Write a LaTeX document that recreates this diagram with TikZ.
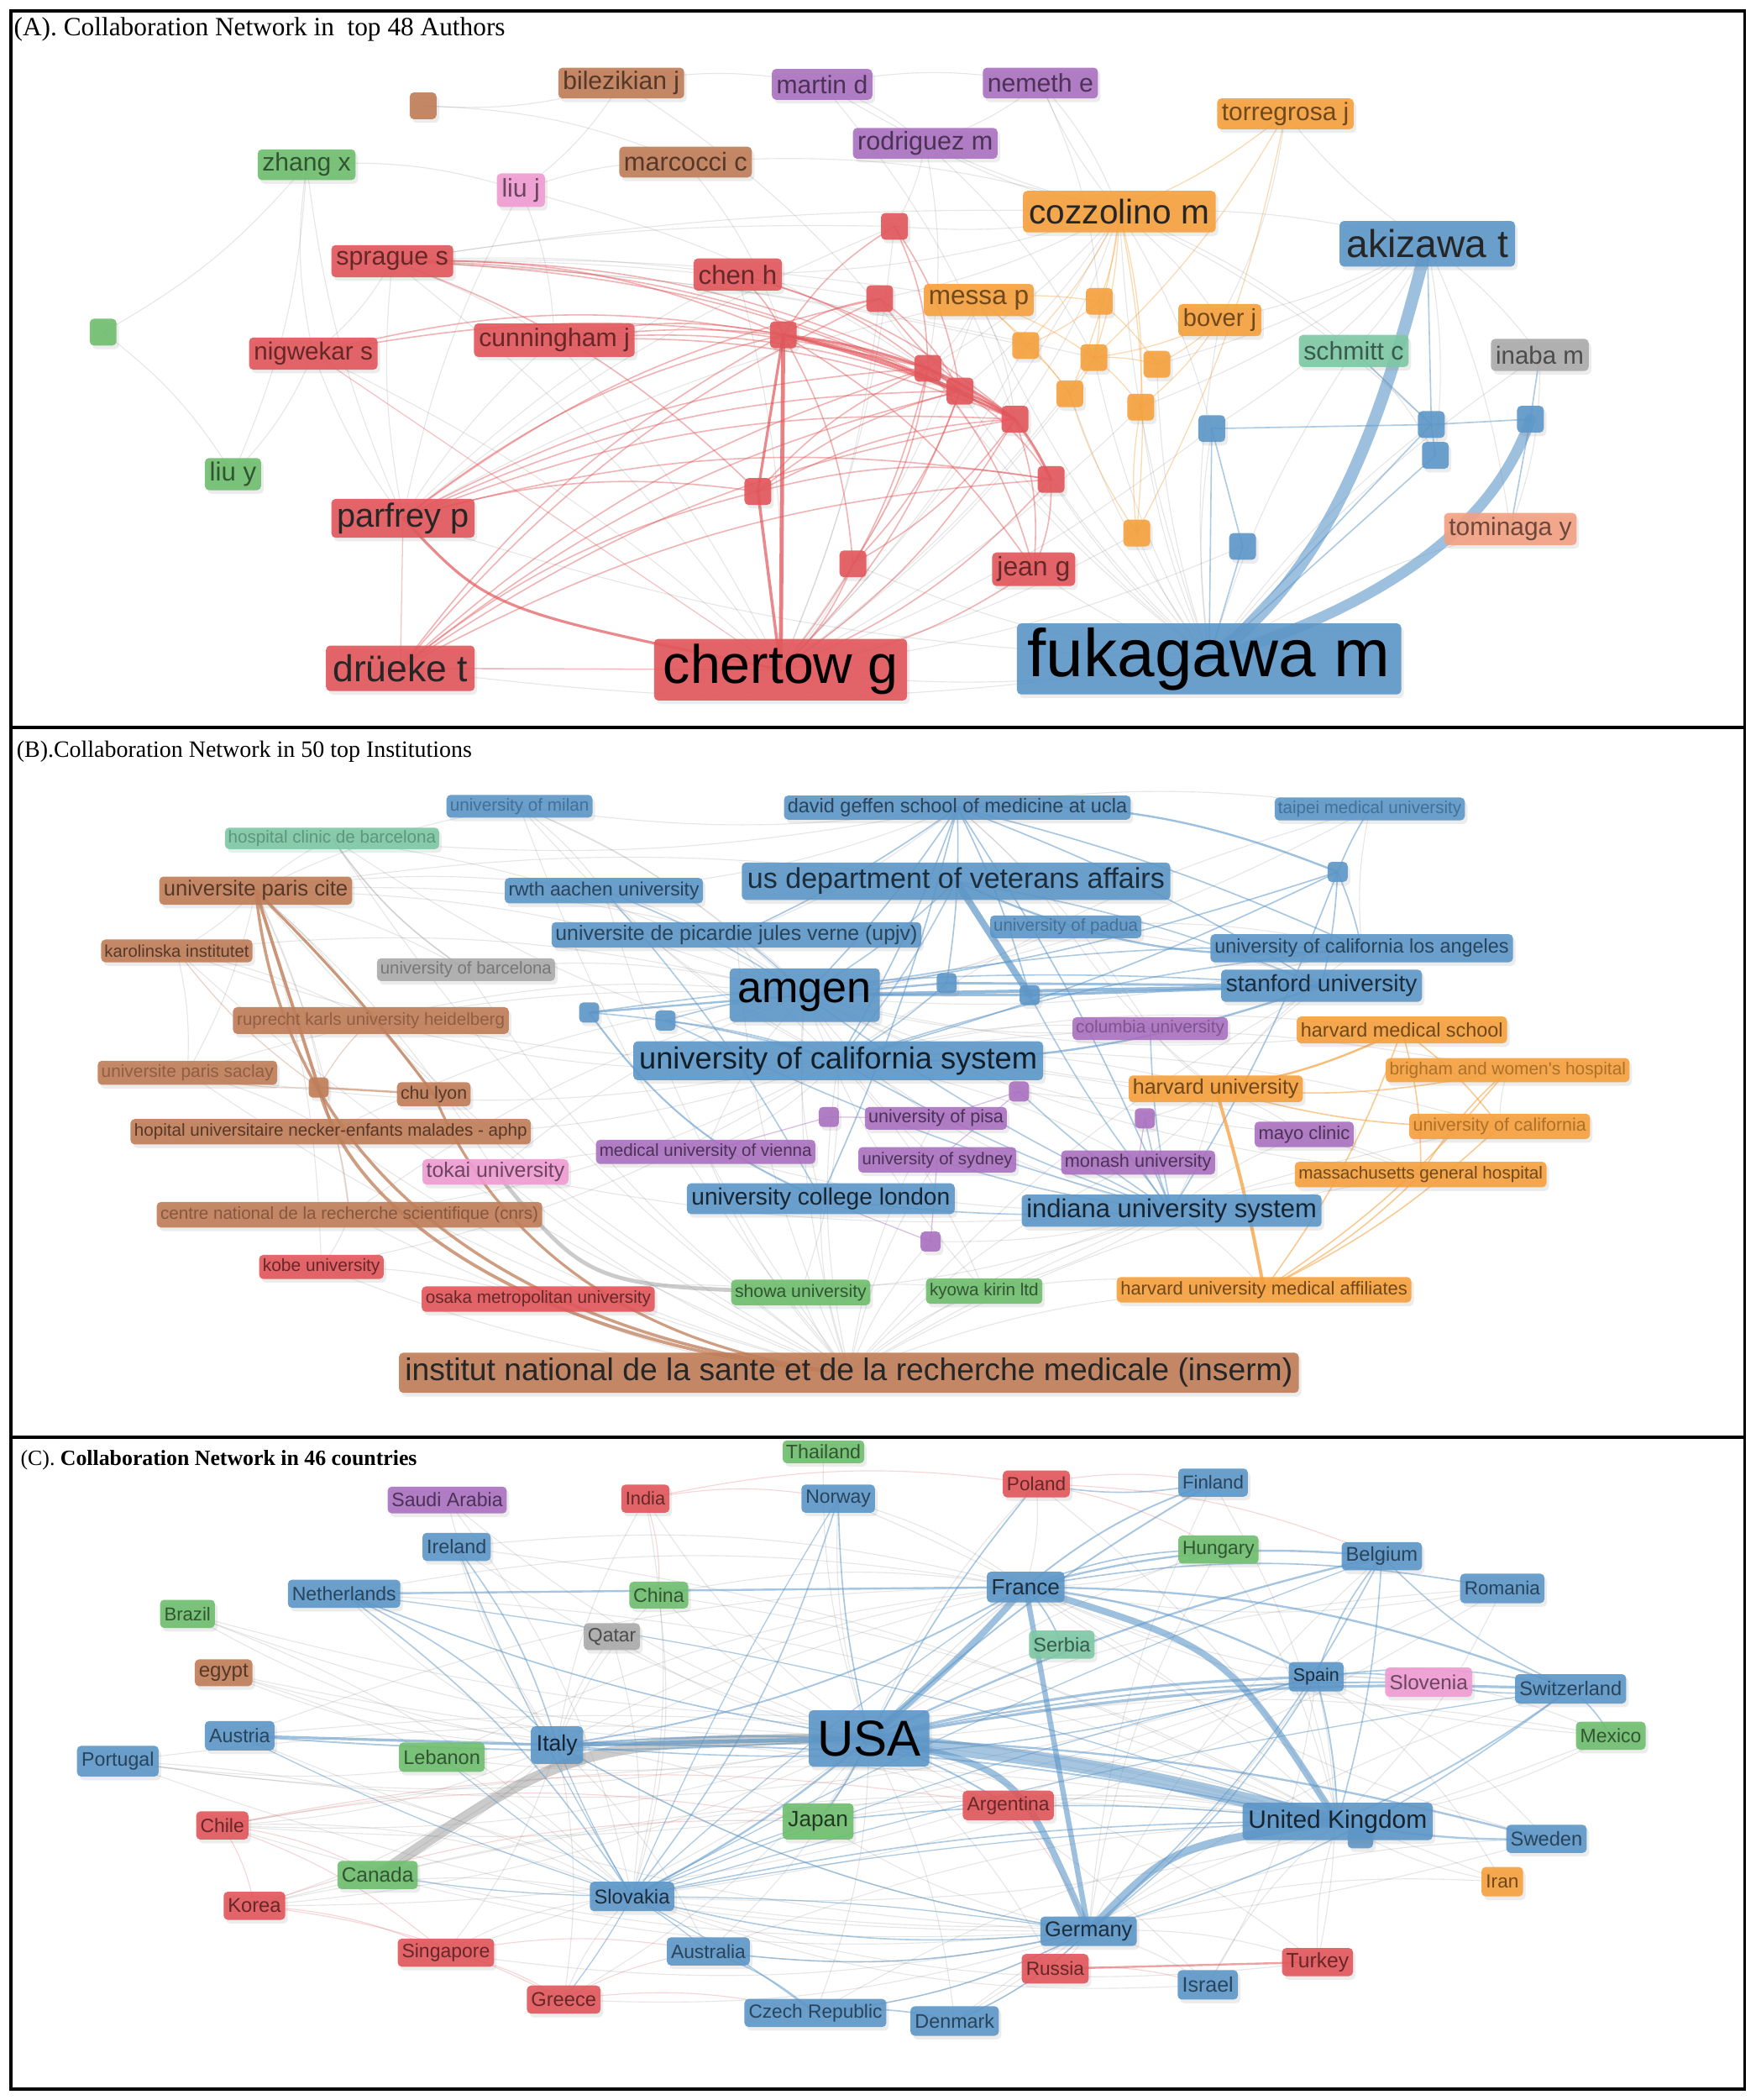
\documentclass[tikz,border=0pt]{standalone}
\usepackage{fontspec}
\setmainfont{Liberation Serif}
\newfontfamily\lab{Liberation Sans}
\usepackage{graphicx}
\usetikzlibrary{shadows}
\pgfdeclarelayer{bgw}
\pgfdeclarelayer{edges}
\pgfsetlayers{bgw,edges,main}
\definecolor{cRed}{RGB}{226,86,90}
\definecolor{cBlue}{RGB}{92,150,200}
\definecolor{cGreen}{RGB}{110,190,110}
\definecolor{cBrown}{RGB}{192,125,88}
\definecolor{cPurple}{RGB}{170,112,192}
\definecolor{cOrange}{RGB}{246,160,60}
\definecolor{cPink}{RGB}{240,155,210}
\definecolor{cMint}{RGB}{125,200,165}
\definecolor{cGray}{RGB}{170,170,170}
\definecolor{cSalmon}{RGB}{243,160,130}
\def\U{0.478pt}
\def\sqw{20}\def\sqh{20}
\tikzset{
  box/.style={rounded corners=1.5pt, inner sep=0pt, font=\lab, fill opacity=0.9, text opacity=1,
    drop shadow={opacity=0.15, shadow xshift=0.9pt, shadow yshift=-1.3pt}},
  fa/.style={draw=black!60, opacity=0.16, line width={0.7*\U}},
  ln/.style n args={3}{draw=#1, opacity=#2, line width={#3*\U}, line cap=round},
}
\newcommand\nd[8][]{%
  \pgfmathsetlengthmacro\tw{(#5-0.3*#6)*\U}%
  \node[box, fill=#7, text=#7!45!black, minimum width={#5*\U}, minimum height={#6*\U}, #1] (#2) at (#3,#4) {\resizebox{\tw}{!}{#8}};%
}
\newcommand\sq[5][]{%
  \node[box, fill=#5, minimum width={\sqw*\U}, minimum height={\sqh*\U}, #1] (#2) at (#3,#4) {};%
}
\begin{document}
\begin{tikzpicture}[x=\U, y=-\U]
\begin{pgfonlayer}{bgw}
\fill[white] (0,0) rectangle (1311,1568);
\end{pgfonlayer}
\useasboundingbox (0,0) rectangle (1311,1568);

% ---------------- Panel A ----------------
\node[anchor=west, inner sep=0pt] (tA) at (10,22) {\resizebox{175.4pt}{!}{(A). Collaboration Network in\ \ top 48 Authors}};
\nd{Abil}{464}{62}{94}{23}{cBrown}{bilezikian j}
\sq{Asqb}{316}{79}{cBrown}
\nd{Amar}{614}{63}{75}{23}{cPurple}{martin d}
\nd{Anem}{777}{62}{86}{23}{cPurple}{nemeth e}
\nd{Ator}{960}{85}{102}{23}{cOrange}{torregrosa j}
\nd{Arod}{691}{107}{108}{23}{cPurple}{rodriguez m}
\nd{Azha}{229}{123}{73}{23}{cGreen}{zhang x}
\nd{Amrc}{512}{121}{99}{23}{cBrown}{marcocci c}
\nd{Aliuj}{389}{142}{36}{25}{cPink}{liu j}
\nd[text=black!85]{Acoz}{836}{158}{144}{31}{cOrange}{cozzolino m}
\nd[text=black!85]{Aaki}{1066}{182}{131}{34}{cBlue}{akizawa t}
\sq{Ar1}{668}{169}{cRed}
\nd{Aspr}{293}{195}{91}{24}{cRed}{sprague s}
\nd{Ache}{551}{205}{66}{24}{cRed}{chen h}
\sq{Ar2}{657}{223}{cRed}
\nd{Ames}{731}{224}{82}{24}{cOrange}{messa p}
\sq{Ao1}{821}{225}{cOrange}
\nd{Abov}{911}{239}{62}{24}{cOrange}{bover j}
\sq{Ag1}{77}{248}{cGreen}
\sq{Ar3}{585}{250}{cRed}
\nd{Acun}{414}{254}{120}{25}{cRed}{cunningham j}
\nd{Anig}{234}{264}{96}{24}{cRed}{nigwekar s}
\sq{Ao2}{766}{258}{cOrange}
\nd{Asch}{1011}{262}{82}{24}{cMint}{schmitt c}
\nd{Aina}{1150}{265}{73}{24}{cGray}{inaba m}
\sq{Ao3}{817}{267}{cOrange}
\sq{Ar4}{693}{275}{cRed}
\sq{Ao4}{864}{272}{cOrange}
\sq{Ar5}{717}{292}{cRed}
\sq{Ao5}{799}{294}{cOrange}
\sq{Ao6}{852}{304}{cOrange}
\sq{Ar6}{758}{313}{cRed}
\sq{Ab1}{905}{320}{cBlue}
\sq{Ab2}{1069}{317}{cBlue}
\sq{Ab3}{1143}{313}{cBlue}
\sq{Ab4}{1072}{340}{cBlue}
\nd{Aliuy}{174}{354}{42}{24}{cGreen}{liu y}
\sq{Ar7}{785}{358}{cRed}
\sq{Ar8}{566}{367}{cRed}
\nd[text=black!85]{Apar}{301}{387}{107}{29}{cRed}{parfrey p}
\sq{Ao7}{849}{398}{cOrange}
\nd{Atom}{1128}{395}{99}{24}{cSalmon}{tominaga y}
\sq{Ab5}{928}{408}{cBlue}
\sq{Ar9}{637}{421}{cRed}
\nd{Ajea}{772}{425}{62}{25}{cRed}{jean g}
\nd[text=black!85]{Adru}{299}{499}{111}{34}{cRed}{drüeke t}
\nd[text=black]{Acht}{583}{500}{189}{46}{cRed}{chertow g}
\nd[text=black]{Afuk}{903}{492}{287}{53}{cBlue}{fukagawa m}

\begin{pgfonlayer}{edges}
\foreach \b in {Acht,Ajea,Ar9,Ao7,Ab1,Ao6,Ao4,Ar7,Ar6,Asch,Atom,Aina,Acoz,Ames,Apar,Ar5,Ab2,Adru,Ao5,Ao3,Abov,Ar4}
  \draw[fa] (Afuk.center) to[bend left=8] (\b.center);
\foreach \b in {Aspr,Acun,Ache,Ar1,Ar2,Anig,Ao7,Ao5,Ao6,Ab1,Acoz,Ames,Ar9,Ab5,Ao2,Ao3}
  \draw[fa] (Acht.center) to[bend right=8] (\b.center);
\foreach \b in {Arod,Amar,Anem,Ar1,Ar2,Ar4,Aaki,Abov,Ab1,Ab2,Asch,Ache,Ar5,Ar6}
  \draw[fa] (Acoz.center) to[bend left=8] (\b.center);
\foreach \b in {Ache,Ar1,Ar2,Ames,Acoz,Acun,Ao2,Ao3}
  \draw[fa] (Aspr.center) to[bend left=5] (\b.center);
\foreach \b in {Aspr,Acun,Anig,Ache,Ar1,Azha,Aliuj,Ames}
  \draw[fa] (Apar.center) to[bend left=8] (\b.center);
\foreach \b in {Asch,Aina,Ab1,Abov,Atom,Ab4,Ao4,Ator,Ao6}
  \draw[fa] (Aaki.center) to[bend left=8] (\b.center);
\foreach \a/\b in {Azha/Aliuy,Azha/Ag1,Ag1/Aliuy,Azha/Aliuj,Aliuj/Amrc,Abil/Asqb,Asqb/Amrc,Abil/Amar,Amar/Anem,Amar/Arod,Anem/Arod,Arod/Ar1,Anem/Acoz,Abil/Aliuj,Anig/Aliuy,Aliuj/Acun,Amrc/Acoz,Ator/Abov,Amrc/Ar3,Abil/Ar4,Anig/Azha,Aspr/Anig,Aliuj/Ar5,Arod/Ar4,Amar/Ar6,Aina/Atom,Asch/Ab4,Arod/Ao3,Anem/Ao1,Ames/Ar4,Ames/Ar6}
  \draw[fa] (\a.center) to[bend left=10] (\b.center);
\foreach \a/\b in {Adru/Ar3,Adru/Ar4,Adru/Ar5,Adru/Ar6,Adru/Ar8,Adru/Ar7,Adru/Ar2,Apar/Ar3,Apar/Ar4,Apar/Ar5,Apar/Ar6,Apar/Ar8,Apar/Ar7,Apar/Ar2,Acun/Ar3,Acun/Ar4,Acun/Ar5,Acun/Ar6,Aspr/Ar3,Aspr/Ar4,Aspr/Ar5,Aspr/Ar6,Aspr/Ar8,Ar3/Ar1,Ar3/Ar2,Ar3/Ar9,Ar3/Ajea,Ar6/Ajea,Ar6/Ar9,Ar6/Ar2,Ar4/Ar9,Ar4/Ajea,Ar5/Ar9,Ar5/Ar7,Ache/Ar3,Ache/Ar4,Ache/Ar6,Anig/Ar3,Anig/Ar4,Ar1/Ar4,Ar1/Ar5,Ar2/Ar5,Ar9/Acht,Ajea/Acht,Ar7/Acht,Ar6/Acht,Ar5/Acht,Ar4/Acht,Ar7/Ajea,Ar8/Ar5,Ar8/Ar4,Ar8/Ar6,Ar8/Ar7}
  \draw[ln={cRed}{0.45}{1}] (\a.center) to[bend left=12] (\b.center);
\draw[ln={cRed}{0.4}{1}] (Adru.center) -- (Acht.center);
\draw[ln={cRed}{0.35}{0.8}] (Apar.center) -- (Adru.center);
\draw[ln={cRed}{0.35}{0.8}] (Anig.center) -- (Acht.center);
\draw[ln={cRed}{0.75}{3}] (Ar3.center) -- (Acht.center);
\draw[ln={cRed}{0.7}{2.2}] (Ar8.center) -- (Acht.center);
\draw[ln={cRed}{0.7}{2}] (Ar3.center) -- (Ar8.center);
\draw[ln={cRed}{0.7}{2}] (Apar.center) .. controls (365,455) .. (Acht.center);
\foreach \a/\b in {Ar3/Ar4,Ar3/Ar5,Ar4/Ar5,Ar4/Ar6,Ar5/Ar6,Ar6/Ar7,Ar3/Ar6}
  \draw[ln={cRed}{0.7}{1.8}] (\a.center) to[bend left=6] (\b.center);
\foreach \a/\b in {Acoz/Ao1,Acoz/Ao2,Acoz/Ao3,Acoz/Ao5,Acoz/Ao7,Acoz/Ao6,Ames/Ao1,Ames/Ao2,Ames/Ao5,Ames/Ao3,Ao1/Ao3,Ao1/Ao2,Ao1/Ao4,Ao3/Ao4,Ao3/Ao5,Ao3/Ao6,Abov/Ao4,Abov/Ao3,Abov/Ao6,Ator/Ao3,Ator/Ao7,Ator/Acoz,Ao7/Ao5,Ao7/Ao6,Ao2/Ao5}
  \draw[ln={cOrange}{0.4}{0.8}] (\a.center) to[bend left=8] (\b.center);
\foreach \a/\b in {Aaki/Ab2,Ab2/Ab3,Ab2/Ab4,Ab4/Afuk,Ab5/Afuk,Ab1/Afuk,Ab1/Ab2,Asch/Ab2,Aina/Ab3,Atom/Ab3,Ab5/Ab1,Ab2/Afuk}
  \draw[ln={cBlue}{0.5}{1}] (\a.center) -- (\b.center);
\draw[ln={cBlue}{0.6}{9}] (Aaki.center) .. controls (1040,280) and (1005,420) .. (Afuk.center);
\draw[ln={cBlue}{0.6}{8}] (Ab3.center) .. controls (1125,365) and (1075,440) .. (Afuk.center);
\end{pgfonlayer}

% ---------------- Panel B ----------------
\def\sqw{15}\def\sqh{15}
\node[anchor=west, inner sep=0pt] (tB) at (12,561) {\resizebox{162.5pt}{!}{(B).Collaboration Network in 50 top Institutions}};
\nd[text=cBlue!75!black]{Bmilan}{388}{602}{109}{17}{cBlue}{university of milan}
\nd{Bgeffen}{715}{603}{259}{18}{cBlue}{david geffen school of medicine at ucla}
\nd[text=cBlue!75!black]{Btaipei}{1023}{604}{142}{17}{cBlue}{taipei medical university}
\nd[text=cMint!75!black]{Bhclinic}{248}{626}{160}{16}{cMint}{hospital clinic de barcelona}
\nd[text=cBlue!30!black]{Busva}{714}{658}{320}{28}{cBlue}{us department of veterans affairs}
\nd{Bpcite}{191}{665}{144}{21}{cBrown}{universite paris cite}
\nd{Brwth}{451}{665}{148}{19}{cBlue}{rwth aachen university}
\sq{Bbsq1}{999}{651}{cBlue}
\nd{Bupjv}{550}{698}{276}{19}{cBlue}{universite de picardie jules verne (upjv)}
\nd[text=cBlue!75!black]{Bpadua}{796}{692}{113}{17}{cBlue}{university of padua}
\nd{Bkarol}{132}{710}{113}{17}{cBrown}{karolinska institutet}
\nd[text=cGray!70!black]{Bubarc}{348}{724}{133}{17}{cGray}{university of barcelona}
\nd{Bucla}{1017}{708}{226}{21}{cBlue}{university of california los angeles}
\nd[text=black]{Bamgen}{601}{743}{112}{40}{cBlue}{amgen}
\sq{Bbsq2}{707}{734}{cBlue}
\nd[text=cBlue!30!black]{Bstanf}{987}{736}{150}{24}{cBlue}{stanford university}
\sq{Bbsq3}{769}{743}{cBlue}
\sq{Bbsq4}{440}{756}{cBlue}
\sq{Bbsq5}{497}{762}{cBlue}
\nd[text=cBrown!75!black]{Bheid}{277}{762}{206}{20}{cBrown}{ruprecht karls university heidelberg}
\nd[text=cPurple!75!black]{Bcolum}{859}{768}{116}{17}{cPurple}{columbia university}
\nd{Bhms}{1047}{769}{157}{20}{cOrange}{harvard medical school}
\nd[text=cBlue!20!black]{Bucsys}{626}{792}{306}{29}{cBlue}{university of california system}
\nd[text=cBrown!75!black]{Bsaclay}{140}{801}{134}{18}{cBrown}{universite paris saclay}
\nd[text=cOrange!70!black]{Bbrigham}{1126}{799}{182}{18}{cOrange}{brigham and women's hospital}
\sq{Bbrsq}{238}{812}{cBrown}
\nd{Blyon}{324}{817}{55}{18}{cBrown}{chu lyon}
\nd{Bharv}{908}{813}{130}{20}{cOrange}{harvard university}
\sq{Bpsq1}{761}{815}{cPurple}
\nd{Bpisa}{699}{835}{106}{17}{cPurple}{university of pisa}
\sq{Bpsq2}{619}{834}{cPurple}
\sq{Bpsq3}{855}{835}{cPurple}
\nd{Bnecker}{247}{845}{299}{19}{cBrown}{hopital universitaire necker-enfants malades - aphp}
\nd[text=cOrange!70!black]{Bucal}{1120}{841}{135}{19}{cOrange}{university of california}
\nd{Bmayo}{974}{847}{74}{19}{cPurple}{mayo clinic}
\nd{Bvienna}{527}{860}{164}{18}{cPurple}{medical university of vienna}
\nd{Bsydney}{700}{866}{118}{19}{cPurple}{university of sydney}
\nd{Bmonash}{850}{868}{115}{18}{cPurple}{monash university}
\nd{Bmgh}{1061}{877}{188}{19}{cOrange}{massachusetts general hospital}
\nd{Btokai}{370}{875}{109}{19}{cPink}{tokai university}
\nd[text=cBlue!25!black]{Bucl}{613}{895}{200}{23}{cBlue}{university college london}
\nd[text=cBlue!25!black]{Bindiana}{875}{904}{224}{24}{cBlue}{indiana university system}
\nd[text=cBrown!70!black]{Bcnrs}{261}{907}{288}{19}{cBrown}{centre national de la recherche scientifique (cnrs)}
\sq{Bpsq4}{695}{927}{cPurple}
\nd{Bkobe}{240}{946}{93}{18}{cRed}{kobe university}
\nd{Bshowa}{598}{965}{104}{19}{cGreen}{showa university}
\nd{Bkyowa}{735}{964}{87}{19}{cGreen}{kyowa kirin ltd}
\nd{Bhmaff}{944}{963}{220}{19}{cOrange}{harvard university medical affiliates}
\nd{Bosaka}{402}{970}{174}{19}{cRed}{osaka metropolitan university}
\nd[text=black!85]{Binserm}{634}{1025}{672}{30}{cBrown}{institut national de la sante et de la recherche medicale (inserm)}

\begin{pgfonlayer}{edges}
\foreach \b in {Bpcite,Bkarol,Bheid,Bsaclay,Bnecker,Bcnrs,Btokai,Bkobe,Bosaka,Bshowa,Bkyowa,Bhmaff,Bindiana,Bucl,Bvienna,Bsydney,Bamgen,Bucsys,Bmonash,Bpsq4,Bmilan,Bhclinic,Bubarc,Bmgh,Bucal,Bstanf,Bpisa,Bupjv,Brwth}
  \draw[fa] (Binserm.center) to[bend left=10] (\b.center);
\foreach \b in {Bmilan,Brwth,Bupjv,Bubarc,Bheid,Bpadua,Bcolum,Bucla,Bhms,Bharv,Bvienna,Bpisa,Bsydney,Bucl,Btokai,Bkyowa,Bmayo,Bkarol,Bsaclay,Bpcite,Btaipei,Bnecker,Bmgh,Bcnrs,Bhclinic}
  \draw[fa] (Bamgen.center) to[bend right=10] (\b.center);
\foreach \b in {Brwth,Bupjv,Bheid,Bmilan,Bhclinic,Bcolum,Bharv,Bmonash,Bpisa,Bvienna,Bshowa,Bkyowa,Bnecker,Bhms,Bbrigham,Bmgh,Bcnrs,Bkobe,Bucal,Btaipei,Bsaclay,Bkarol}
  \draw[fa] (Bucsys.center) to[bend left=10] (\b.center);
\foreach \b in {Bkarol,Bsaclay,Bheid,Bnecker,Bcnrs,Brwth,Bmilan,Bhclinic,Bubarc,Bkobe,Busva,Bupjv,Btokai}
  \draw[fa] (Bpcite.center) to[bend left=8] (\b.center);
\foreach \b in {Bcolum,Bstanf,Bmonash,Bindiana,Bmayo,Bucla,Bpsq3,Bpsq1,Bpadua}
  \draw[fa] (Bharv.center) to[bend left=8] (\b.center);
\foreach \b in {Bpisa,Bvienna,Bshowa,Bkyowa,Bmayo,Bmgh,Bpsq4,Bhmaff,Btokai}
  \draw[fa] (Bindiana.center) to[bend left=8] (\b.center);
\foreach \b in {Bmilan,Brwth,Bpadua,Bhclinic,Btaipei,Bupjv,Bcolum}
  \draw[fa] (Bgeffen.center) to[bend left=8] (\b.center);
\foreach \a/\b in {Bkarol/Bsaclay,Bkarol/Bheid,Bsaclay/Bnecker,Bcnrs/Bkobe,Bkobe/Bosaka,Bosaka/Bshowa,Bshowa/Bkyowa,Bkyowa/Bhmaff,Btokai/Bvienna,Bmilan/Brwth,Bucla/Btaipei,Bmayo/Bmgh,Bucal/Bbrigham,Bmilan/Bupjv,Bpadua/Bstanf,Bpadua/Bucla}
  \draw[fa] (\a.center) to[bend left=8] (\b.center);
\draw[ln={cBrown}{0.8}{2.4}] (Bpcite.center) -- (Bbrsq.center);
\draw[ln={cBrown}{0.8}{2}] (Bpcite.center) to[bend left=4] (Blyon.center);
\draw[ln={cBrown}{0.75}{2.2}] (Bpcite.center) .. controls (215,900) and (420,1005) .. (Binserm.center);
\draw[ln={cBrown}{0.75}{2.4}] (Bbrsq.center) .. controls (265,920) and (430,1010) .. (Binserm.center);
\draw[ln={cBrown}{0.75}{2}] (Blyon.center) .. controls (360,905) and (450,1005) .. (Binserm.center);
\draw[ln={cBrown}{0.6}{1.5}] (Bbrsq.center) -- (Blyon.center);
\foreach \b in {Bnecker,Bcnrs,Bheid,Bsaclay,Bkarol}
  \draw[ln={cBrown}{0.35}{0.8}] (Bbrsq.center) to[bend left=8] (\b.center);
\draw[ln={black!40}{0.5}{3}] (Btokai.center) .. controls (440,960) .. (Bshowa.center);
\draw[ln={black!40}{0.45}{1}] (Bhclinic.center) to[bend right=10] (Bubarc.center);
\draw[ln={cBlue}{0.7}{5}] (Busva.center) -- (Bbsq3.center);
\draw[ln={cBlue}{0.65}{2.5}] (Bamgen.center) -- (Bstanf.center);
\draw[ln={cBlue}{0.65}{2}] (Bbsq3.center) -- (Bstanf.center);
\draw[ln={cBlue}{0.6}{1.8}] (Bbsq2.center) -- (Bstanf.center);
\draw[ln={cBlue}{0.6}{2}] (Bamgen.center) -- (Bbsq3.center);
\draw[ln={cBlue}{0.6}{1.5}] (Bamgen.center) -- (Bbsq2.center);
\draw[ln={cBlue}{0.6}{1.5}] (Bgeffen.center) to[bend left=12] (Bbsq1.center);
\draw[ln={cBlue}{0.6}{1.5}] (Busva.center) to[bend right=15] (Bucla.center);
\draw[ln={cBlue}{0.6}{1.5}] (Bucsys.center) to[bend right=10] (Bstanf.center);
\draw[ln={cBlue}{0.6}{1.5}] (Bbsq4.center) -- (Bamgen.center);
\draw[ln={cBlue}{0.6}{1.3}] (Bbsq4.center) to[bend right=15] (Bucl.center);
\foreach \b in {Bamgen,Bucsys,Bstanf,Bbsq3,Bindiana,Bupjv,Bbsq2,Bucl,Bucla}
  \draw[ln={cBlue}{0.55}{1}] (Bgeffen.center) to[bend left=5] (\b.center);
\foreach \b in {Bucla,Bstanf,Bucsys,Bindiana,Btaipei,Bamgen}
  \draw[ln={cBlue}{0.55}{1}] (Bbsq1.center) to[bend left=5] (\b.center);
\foreach \b in {Bucl,Bsydney,Bmonash,Bcolum,Bpsq3,Bpsq1,Bamgen,Bucsys,Bbsq3,Bbsq5}
  \draw[ln={cBlue}{0.5}{1}] (Bindiana.center) to[bend left=5] (\b.center);
\foreach \a/\b in {Busva/Bstanf,Busva/Bucsys,Busva/Bamgen,Brwth/Bamgen,Bupjv/Bamgen,Bbsq5/Bamgen,Bbsq5/Bucsys,Bbsq4/Bucsys,Bbsq4/Bstanf,Bucsys/Bucla,Bamgen/Bucla,Bbsq2/Bucsys,Brwth/Bucl}
  \draw[ln={cBlue}{0.5}{1}] (\a.center) to[bend left=6] (\b.center);
\draw[ln={cOrange}{0.75}{2.5}] (Bharv.center) to[bend left=3] (Bhmaff.center);
\draw[ln={cOrange}{0.7}{1.5}] (Bhms.center) to[bend left=8] (Bharv.center);
\foreach \a/\b in {Bhms/Bhmaff,Bmgh/Bhmaff,Bbrigham/Bhmaff,Bucal/Bhmaff,Bmgh/Bbrigham,Bucal/Bharv,Bhms/Bmgh,Bbrigham/Bharv,Bhms/Bucal}
  \draw[ln={cOrange}{0.55}{1}] (\a.center) to[bend left=8] (\b.center);
\foreach \a/\b in {Bpsq1/Bpisa,Bpsq1/Bsydney,Bpsq2/Bpisa,Bpsq2/Bvienna,Bpsq4/Bsydney,Bpsq4/Bucl,Bpsq3/Bmonash}
  \draw[ln={cPurple}{0.45}{0.8}] (\a.center) -- (\b.center);
\end{pgfonlayer}

% ---------------- Panel C ----------------
\def\sqw{19}\def\sqh{16}
\node[anchor=west, inner sep=0pt] (tC) at (15,1090) {\resizebox{141.5pt}{!}{(C). \textbf{Collaboration Network in 46 countries}}};
\nd{Cthai}{615}{1084}{61}{17}{cGreen}{Thailand}
\nd{Csaudi}{334}{1120}{89}{20}{cPurple}{Saudi Arabia}
\nd{Cindia}{482}{1119}{36}{21}{cRed}{India}
\nd{Cnorway}{626}{1119}{55}{21}{cBlue}{Norway}
\nd{Cpoland}{774}{1108}{50}{20}{cRed}{Poland}
\nd{Cfinland}{906}{1107}{52}{21}{cBlue}{Finland}
\nd{Cireland}{341}{1155}{51}{21}{cBlue}{Ireland}
\nd{Chungary}{910}{1157}{60}{21}{cGreen}{Hungary}
\nd{Cbelgium}{1032}{1162}{60}{21}{cBlue}{Belgium}
\nd{Cnether}{257}{1190}{84}{21}{cBlue}{Netherlands}
\nd{Cchina}{492}{1191}{44}{20}{cGreen}{China}
\nd[text=cBlue!30!black]{Cfrance}{766}{1185}{58}{23}{cBlue}{France}
\nd{Cromania}{1122}{1186}{63}{22}{cBlue}{Romania}
\nd{Cbrazil}{140}{1205}{41}{21}{cGreen}{Brazil}
\nd{Cqatar}{457}{1222}{42}{20}{cGray}{Qatar}
\nd{Cserbia}{793}{1228}{49}{21}{cMint}{Serbia}
\nd{Cegypt}{167}{1249}{43}{20}{cBrown}{egypt}
\nd[text=cBlue!30!black]{Cspain}{983}{1252}{41}{22}{cBlue}{Spain}
\nd{Cslovenia}{1067}{1256}{65}{22}{cPink}{Slovenia}
\nd{Cswiss}{1173}{1261}{83}{22}{cBlue}{Switzerland}
\nd{Caustria}{179}{1296}{52}{22}{cBlue}{Austria}
\nd[text=black]{Cusa}{649}{1298}{90}{42}{cBlue}{USA}
\nd{Cmexico}{1203}{1296}{52}{21}{cGreen}{Mexico}
\nd[text=cBlue!25!black]{Citaly}{416}{1303}{39}{28}{cBlue}{Italy}
\nd{Cportugal}{88}{1315}{61}{23}{cBlue}{Portugal}
\nd{Clebanon}{330}{1312}{64}{22}{cGreen}{Lebanon}
\nd{Cargentina}{753}{1348}{68}{22}{cRed}{Argentina}
\nd[text=cGreen!30!black]{Cjapan}{611}{1360}{53}{27}{cGreen}{Japan}
\sq{Cuksq}{1016}{1372}{cBlue}
\nd[text=cBlue!25!black]{Cuk}{999}{1360}{142}{28}{cBlue}{United Kingdom}
\nd{Cchile}{166}{1363}{39}{21}{cRed}{Chile}
\nd{Csweden}{1155}{1373}{60}{21}{cBlue}{Sweden}
\nd{Ccanada}{282}{1400}{60}{21}{cGreen}{Canada}
\nd{Ciran}{1122}{1405}{31}{22}{cOrange}{Iran}
\nd[text=cBlue!30!black]{Cslovakia}{472}{1416}{63}{22}{cBlue}{Slovakia}
\nd{Ckorea}{190}{1423}{46}{21}{cRed}{Korea}
\nd[text=cBlue!30!black]{Cgermany}{813}{1442}{72}{22}{cBlue}{Germany}
\nd{Csingapore}{333}{1458}{72}{21}{cRed}{Singapore}
\nd{Caustralia}{529}{1457}{62}{21}{cBlue}{Australia}
\nd{Crussia}{788}{1470}{50}{22}{cRed}{Russia}
\nd{Cturkey}{984}{1465}{53}{21}{cRed}{Turkey}
\nd{Cisrael}{902}{1482}{45}{22}{cBlue}{Israel}
\nd{Cgreece}{421}{1493}{55}{21}{cRed}{Greece}
\nd{Cczech}{609}{1503}{106}{21}{cBlue}{Czech Republic}
\nd{Cdenmark}{713}{1509}{66}{22}{cBlue}{Denmark}

\begin{pgfonlayer}{edges}
\foreach \b in {Cthai,Csaudi,Cindia,Cnorway,Cpoland,Cireland,Chungary,Cchina,Cqatar,Cserbia,Cbrazil,Cegypt,Cportugal,Clebanon,Cchile,Ckorea,Csingapore,Caustralia,Cgreece,Cczech,Cdenmark,Crussia,Cturkey,Cisrael,Ciran,Cmexico,Cromania}
  \draw[fa] (Cusa.center) to[bend left=10] (\b.center);
\foreach \b in {Cireland,Cnether,Citaly,Caustria,Cportugal,Cchile,Ckorea,Ccanada,Caustralia,Cczech,Cdenmark,Cisrael,Cturkey,Ciran,Cmexico,Cromania,Cfinland,Chungary,Cpoland,Cnorway,Cchina,Cjapan,Cargentina}
  \draw[fa] (Cuk.center) to[bend right=10] (\b.center);
\foreach \b in {Citaly,Caustria,Cportugal,Cchile,Ccanada,Csingapore,Cgreece,Caustralia,Cczech,Cdenmark,Crussia,Cisrael,Cturkey,Ciran,Csweden,Cswiss,Cbelgium,Chungary,Cfinland,Cjapan}
  \draw[fa] (Cgermany.center) to[bend left=10] (\b.center);
\foreach \b in {Cireland,Cnether,Cchina,Citaly,Caustria,Clebanon,Ccanada,Cjapan,Cpoland,Cnorway,Cromania,Chungary,Csweden,Cmexico,Cslovenia}
  \draw[fa] (Cfrance.center) to[bend right=10] (\b.center);
\foreach \b in {Cireland,Cnether,Cqatar,Cindia,Cchina,Cegypt,Cportugal,Cchile,Ckorea,Ccanada,Csingapore,Cgreece,Cjapan,Caustralia,Cargentina,Csaudi,Cbrazil}
  \draw[fa] (Citaly.center) to[bend left=10] (\b.center);
\foreach \b in {Cportugal,Cchile,Ckorea,Csingapore,Cgreece,Cbrazil,Cegypt,Cqatar,Cchina,Cindia,Csaudi,Cromania,Cmexico,Csweden,Cisrael,Cturkey}
  \draw[fa] (Cslovakia.center) to[bend right=12] (\b.center);
\foreach \b in {Cportugal,Cegypt,Cbrazil,Cchile,Ckorea,Cromania,Csweden,Cmexico,Ciran,Cisrael,Cturkey,Cdenmark}
  \draw[fa] (Cspain.center) to[bend left=12] (\b.center);
\foreach \a/\b in {Cchile/Ckorea,Cchile/Ccanada,Cchile/Csingapore,Cchile/Cjapan,Ckorea/Csingapore,Ckorea/Cgreece,Csingapore/Cgreece,Csingapore/Caustralia,Cindia/Cpoland,Cindia/Cnorway,Cindia/Cchina,Cpoland/Cfinland,Cpoland/Chungary,Cpoland/Cbelgium,Crussia/Cisrael,Cgreece/Caustralia,Cgreece/Cczech,Ckorea/Cjapan,Cchile/Cargentina,Cargentina/Cgermany}
  \draw[ln={cRed}{0.25}{0.7}] (\a.center) to[bend left=10] (\b.center);
\draw[ln={cBlue}{0.55}{11}] (Cusa.center) .. controls (820,1318) .. (Cuk.center);
\draw[ln={cBlue}{0.6}{5}] (Cusa.center) .. controls (720,1235) .. (Cfrance.center);
\draw[ln={cBlue}{0.6}{5}] (Cusa.center) .. controls (760,1320) .. (Cgermany.center);
\draw[ln={cBlue}{0.6}{4}] (Cfrance.center) -- (Cgermany.center);
\draw[ln={cBlue}{0.6}{5}] (Cfrance.center) .. controls (915,1230) .. (Cuk.center);
\draw[ln={cBlue}{0.6}{6}] (Cgermany.center) .. controls (875,1378) .. (Cuk.center);
\draw[ln={black!40}{0.5}{8}] (Ccanada.center) .. controls (430,1300) .. (Cusa.center);
\draw[ln={cBlue}{0.65}{3}] (Citaly.center) -- (Cusa.center);
\draw[ln={cBlue}{0.55}{1.5}] (Citaly.center) to[bend left=3] (Cusa.center);
\draw[ln={cBlue}{0.6}{2}] (Caustria.center) -- (Citaly.center);
\draw[ln={cBlue}{0.5}{1.2}] (Caustria.center) to[bend right=4] (Cusa.center);
\draw[ln={cBlue}{0.55}{1.5}] (Cnether.center) -- (Cfrance.center);
\draw[ln={cRed}{0.55}{1.5}] (Crussia.center) -- (Cturkey.center);
\foreach \b/\lw in {Cspain/2,Cswiss/2,Cslovenia/1.2,Cbelgium/1.5,Csweden/1.5,Cjapan/1.2,Cslovakia/1.5,Cargentina/1.2,Cnether/1,Cfinland/1.2,Cnorway/1,Cpoland/1}
  \draw[ln={cBlue}{0.55}{\lw}] (Cusa.center) to[bend left=6] (\b.center);
\foreach \b/\lw in {Cbelgium/1.5,Cspain/1.5,Cswiss/1.5,Cfinland/1.2,Cserbia/1,Cromania/1,Chungary/1,Citaly/1.2}
  \draw[ln={cBlue}{0.55}{\lw}] (Cfrance.center) to[bend left=10] (\b.center);
\foreach \b/\lw in {Csweden/1.5,Cswiss/1.2,Cspain/1.2,Cbelgium/1,Citaly/1.2,Cslovakia/1,Cnether/0.8,Cjapan/1}
  \draw[ln={cBlue}{0.5}{\lw}] (Cuk.center) to[bend right=6] (\b.center);
\foreach \a/\b in {Cspain/Cbelgium,Cspain/Cswiss,Cspain/Cslovenia,Cspain/Cgermany,Cspain/Citaly,Cswiss/Cbelgium,Cswiss/Cmexico,Cswiss/Cslovenia,Cswiss/Cgermany,Cgermany/Cslovakia,Cgermany/Citaly,Cgermany/Caustralia,Cgermany/Cdenmark,Cgermany/Cczech,Cireland/Citaly,Cnether/Citaly,Cnether/Cslovakia,Cnorway/Cslovakia,Cfinland/Cpoland,Caustralia/Cczech,Cczech/Cdenmark,Cbelgium/Cgermany}
  \draw[ln={cBlue}{0.5}{1}] (\a.center) to[bend left=10] (\b.center);
\foreach \b in {Citaly,Cireland,Cnorway,Cfrance,Cjapan,Caustralia,Cczech,Cgreece,Caustria,Cuk,Ccanada,Cspain,Cbelgium,Cswiss,Cgermany,Clebanon}
  \draw[ln={cBlue}{0.5}{0.8}] (Cslovakia.center) to[bend left=4] (\b.center);
\end{pgfonlayer}

% frames
\draw[line width={2.4*\U}] (8,8) rectangle (1303,543);
\draw[line width={2.4*\U}] (8,543) rectangle (1303,1073);
\draw[line width={2.4*\U}] (8,1073) rectangle (1303,1560);
\end{tikzpicture}
\end{document}
